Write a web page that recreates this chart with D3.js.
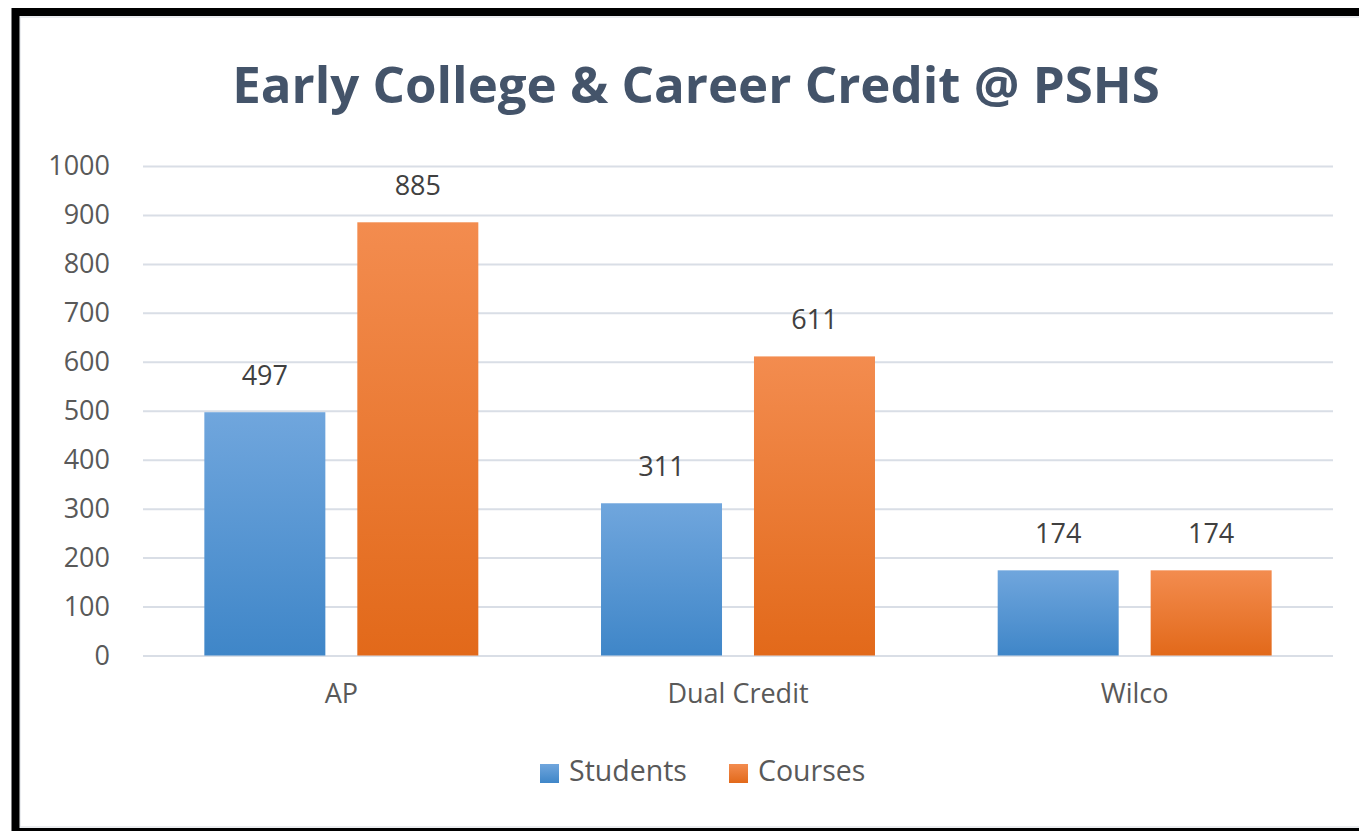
<!DOCTYPE html>
<html>
<head>
<meta charset="utf-8">
<script src="https://cdn.jsdelivr.net/npm/d3@7"></script>
<style>
  html, body { margin: 0; padding: 0; background: #fff; }
  svg { display: block; }
</style>
</head>
<body>
<svg id="chart"></svg>
<script>
// chart data
const categories = ['AP', 'Dual Credit', 'Wilco'];
const seriesNames = ['Students', 'Courses'];
const students = [497, 311, 174];
const courses = [885, 611, 174];
const yTicks = [0, 100, 200, 300, 400, 500, 600, 700, 800, 900, 1000];

const W = 1359, H = 831;
const margin = { top: 166, right: 26, bottom: 175.5, left: 143 };
const plotW = W - margin.left - margin.right;
const plotH = H - margin.top - margin.bottom;

const svg = d3.select('#chart').attr('width', W).attr('height', H);

const defs = svg.append('defs');
const grads = [
  { id: 'gradStudents', top: '#70a6dd', bottom: '#3f86c8' },
  { id: 'gradCourses', top: '#f38c4f', bottom: '#e2691a' }
];
grads.forEach(g => {
  const lg = defs.append('linearGradient')
    .attr('id', g.id)
    .attr('x1', '0%').attr('x2', '0%')
    .attr('y1', '0%').attr('y2', '100%');
  lg.append('stop').attr('offset', '0%').attr('stop-color', g.top);
  lg.append('stop').attr('offset', '100%').attr('stop-color', g.bottom);
});

// light inner chart-area edge, then the thick black frame
svg.append('rect')
  .attr('x', 20).attr('y', 17).attr('width', W).attr('height', 810)
  .attr('fill', 'none').attr('stroke', '#e3e6ea').attr('stroke-width', 1.5);
svg.append('rect')
  .attr('x', 15.5).attr('y', 12).attr('width', W + 20).attr('height', 820)
  .attr('fill', 'none').attr('stroke', '#000').attr('stroke-width', 8);

svg.append('text')
  .attr('x', 696).attr('y', 103)
  .attr('text-anchor', 'middle')
  .attr('font-family', '"Open Sans", sans-serif')
  .attr('font-weight', 'bold')
  .attr('font-size', 51)
  .attr('fill', '#44546a')
  .text('Early College & Career Credit @ PSHS');

const g = svg.append('g').attr('transform', `translate(${margin.left},${margin.top})`);

const x0 = d3.scaleBand().domain(categories).range([0, plotW]).padding(0);
const groupW = x0.bandwidth() * (274 / 396.7);
const x1 = d3.scaleBand()
  .domain(seriesNames)
  .range([(x0.bandwidth() - groupW) / 2, (x0.bandwidth() + groupW) / 2])
  .paddingInner(0.209)
  .paddingOuter(0);
const y = d3.scaleLinear().domain([0, 1000]).range([plotH, 0]);

// gridlines + y labels
const yAxis = d3.axisLeft(y).tickValues(yTicks).tickFormat(d3.format('d'))
  .tickSize(-plotW).tickPadding(33);
const ya = g.append('g').call(yAxis);
ya.select('.domain').remove();
ya.selectAll('.tick line').attr('stroke', '#d9dee6').attr('stroke-width', 2);
ya.selectAll('.tick text')
  .attr('font-family', '"Open Sans", sans-serif')
  .attr('font-size', 27)
  .attr('fill', '#595959');

// category labels
const xAxis = d3.axisBottom(x0).tickSize(0).tickPadding(28);
const xa = g.append('g').attr('transform', `translate(0,${plotH})`).call(xAxis);
xa.select('.domain').remove();
xa.selectAll('.tick text')
  .attr('font-family', '"Open Sans", sans-serif')
  .attr('font-size', 27)
  .attr('fill', '#595959');

const rows = categories.map((c, i) => ({
  cat: c,
  vals: [
    { s: 'Students', v: students[i], fill: 'url(#gradStudents)' },
    { s: 'Courses', v: courses[i], fill: 'url(#gradCourses)' }
  ]
}));

const groups = g.append('g').selectAll('g')
  .data(rows)
  .join('g')
  .attr('transform', d => `translate(${x0(d.cat)},0)`);

groups.selectAll('rect')
  .data(d => d.vals)
  .join('rect')
  .attr('x', d => x1(d.s))
  .attr('y', d => y(d.v))
  .attr('width', x1.bandwidth())
  .attr('height', d => plotH - y(d.v))
  .attr('fill', d => d.fill);

groups.selectAll('text.lbl')
  .data(d => d.vals)
  .join('text')
  .attr('class', 'lbl')
  .attr('x', d => x1(d.s) + x1.bandwidth() / 2)
  .attr('y', d => y(d.v) - 27)
  .attr('text-anchor', 'middle')
  .attr('font-family', '"Open Sans", sans-serif')
  .attr('font-size', 27)
  .attr('fill', '#404040')
  .text(d => d.v);

// legend
const legend = svg.append('g');
const legendItems = [
  { name: seriesNames[0], fill: 'url(#gradStudents)', x: 540 },
  { name: seriesNames[1], fill: 'url(#gradCourses)', x: 729 }
];
legend.selectAll('rect')
  .data(legendItems)
  .join('rect')
  .attr('x', d => d.x).attr('y', 764)
  .attr('width', 19).attr('height', 19)
  .attr('fill', d => d.fill);
legend.selectAll('text')
  .data(legendItems)
  .join('text')
  .attr('x', d => d.x + 29).attr('y', 781)
  .attr('font-family', '"Open Sans", sans-serif')
  .attr('font-size', 28.5)
  .attr('fill', '#595959')
  .text(d => d.name);
</script>
</body>
</html>
